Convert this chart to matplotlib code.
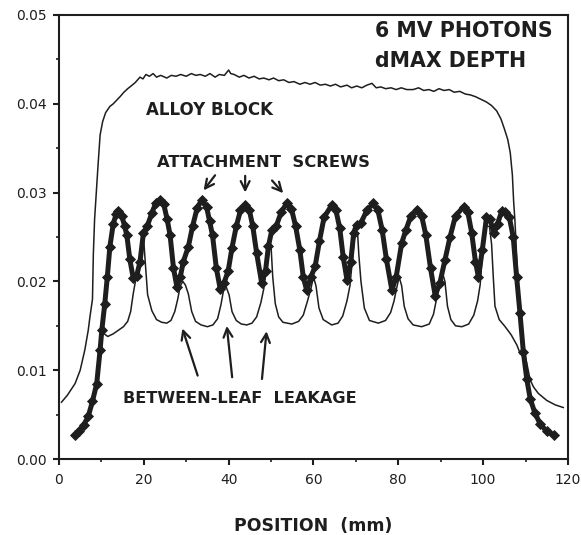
import numpy as np
import matplotlib
matplotlib.use("Agg")
import matplotlib.pyplot as plt
from matplotlib.ticker import MultipleLocator

plt.rcParams['font.family'] = ['DejaVu Sans']

# alloy block profile (thin upper curve)
alloy_x = [0.6, 2.0, 3.8, 5.0, 6.1, 6.9, 7.3, 7.9, 8.1, 8.4, 8.8, 9.2, 9.7, 10.3, 11.0, 12.0,
           12.8, 13.6, 14.4, 15.3, 16.2, 17.0, 18.0, 19.1, 19.8, 20.5, 21.3, 22.2, 23.0, 24.0,
           25.4, 26.5, 27.6, 28.7, 30.0, 31.2, 32.3, 33.3, 34.5, 35.6, 36.8, 37.8, 39.0, 40.0,
           40.5, 41.3, 42.5, 43.6, 44.8, 46.0, 47.2, 48.3, 49.5, 50.6, 51.8, 53.0, 54.2, 55.4,
           56.8, 58.0, 59.2, 60.4, 61.6, 62.8, 64.0, 65.2, 66.4, 67.9, 69.0, 70.2, 71.4, 72.6,
           73.8, 74.8, 75.9, 77.0, 78.3, 79.5, 80.7, 82.0, 83.5, 84.8, 86.0, 87.2, 88.4, 89.6,
           90.8, 92.0, 93.2, 94.5, 95.8, 97.0, 98.2, 99.5, 100.8, 102.0, 103.2, 104.2, 105.0,
           105.8, 106.4, 106.9, 107.2, 107.5, 108.2, 109.0, 110.0, 111.1, 111.9, 113.0, 115.0,
           117.0, 118.9]
alloy_y = [0.0064, 0.0072, 0.0085, 0.0100, 0.0123, 0.0145, 0.0160, 0.0180, 0.0230, 0.0270,
           0.0300, 0.0330, 0.0365, 0.0380, 0.0390, 0.0397, 0.0400, 0.0404, 0.0408, 0.0413,
           0.0417, 0.0420, 0.0424, 0.0430, 0.0428, 0.0433, 0.0431, 0.0434, 0.0430, 0.0432,
           0.0429, 0.0432, 0.0431, 0.0433, 0.0431, 0.0434, 0.0432, 0.0433, 0.0431, 0.0434,
           0.0430, 0.0433, 0.0432, 0.0438, 0.0434, 0.0433, 0.0430, 0.0432, 0.0429, 0.0431,
           0.0428, 0.0429, 0.0427, 0.0429, 0.0426, 0.0427, 0.0424, 0.0425, 0.0422, 0.0424,
           0.0422, 0.0424, 0.0421, 0.0422, 0.0420, 0.0422, 0.0419, 0.0421, 0.0418, 0.0420,
           0.0418, 0.0421, 0.0423, 0.0418, 0.0419, 0.0417, 0.0418, 0.0416, 0.0418, 0.0416,
           0.0416, 0.0418, 0.0415, 0.0416, 0.0414, 0.0417, 0.0415, 0.0416, 0.0413, 0.0414,
           0.0411, 0.0410, 0.0408, 0.0405, 0.0402, 0.0398, 0.0392, 0.0383, 0.0372, 0.0360,
           0.0345, 0.0320, 0.0290, 0.0269, 0.0200, 0.0150, 0.0115, 0.0089, 0.0081, 0.0074,
           0.0066, 0.0061, 0.0058]

# between-leaf leakage profile (thin lower curve)
leak_x = [10.4, 11.5, 12.8, 14.0, 15.2, 16.2, 16.9, 17.5, 18.2, 18.9, 19.5, 20.0, 20.4, 20.9,
          21.9, 23.0, 24.2, 25.4, 26.4, 27.3, 28.0, 28.6, 29.2, 29.8, 30.5, 31.3, 32.2, 33.5,
          35.0, 36.3, 37.4, 38.2, 38.8, 39.4, 40.1, 40.8, 41.8, 43.0, 44.3, 45.5, 46.6, 47.6,
          48.3, 48.9, 49.5, 50.0, 50.4, 51.0, 51.8, 52.8, 54.9, 56.5, 57.6, 58.6, 59.4, 60.0,
          60.6, 61.3, 62.3, 64.3, 65.8, 66.9, 67.9, 68.6, 69.2, 69.8, 70.4, 70.7, 71.2, 72.0,
          73.2, 75.3, 77.0, 78.2, 79.0, 79.6, 80.2, 80.8, 81.4, 82.3, 83.5, 85.5, 87.3, 88.3,
          89.1, 89.7, 90.4, 91.0, 91.6, 92.4, 93.5, 95.0, 96.6, 97.8, 98.7, 99.3, 99.8, 100.6,
          101.5, 102.0, 102.4, 102.8, 103.8, 105.2, 106.6, 108.0, 108.8]
leak_y = [0.0142, 0.0138, 0.0141, 0.0145, 0.0149, 0.0155, 0.0166, 0.0186, 0.0205, 0.0220,
          0.0245, 0.0245, 0.0218, 0.0185, 0.0167, 0.0157, 0.0154, 0.0153, 0.0156, 0.0166,
          0.0180, 0.0195, 0.0200, 0.0196, 0.0186, 0.0166, 0.0155, 0.0151, 0.0149, 0.0151,
          0.0158, 0.0174, 0.0190, 0.0194, 0.0185, 0.0166, 0.0156, 0.0152, 0.0151, 0.0153,
          0.0160, 0.0176, 0.0192, 0.0215, 0.0245, 0.0240, 0.0205, 0.0175, 0.0160, 0.0154,
          0.0152, 0.0155, 0.0162, 0.0178, 0.0192, 0.0205, 0.0195, 0.0170, 0.0157, 0.0151,
          0.0153, 0.0161, 0.0178, 0.0195, 0.0225, 0.0255, 0.0255, 0.0230, 0.0200, 0.0170,
          0.0156, 0.0153, 0.0156, 0.0165, 0.0178, 0.0192, 0.0205, 0.0195, 0.0172, 0.0158,
          0.0151, 0.0149, 0.0152, 0.0163, 0.0182, 0.0195, 0.0210, 0.0200, 0.0172, 0.0157,
          0.0150, 0.0149, 0.0152, 0.0162, 0.0178, 0.0196, 0.0228, 0.0262, 0.0262, 0.0242,
          0.0205, 0.0172, 0.0157, 0.0149, 0.0140, 0.0128, 0.0118]

# attachment screw profile (heavy beaded curve)
screw_x = [3.8, 4.8, 5.8, 6.9, 7.9, 8.9, 9.7, 10.1, 10.8, 11.4, 12.0, 12.8, 13.5, 14.0, 14.8,
           15.5, 16.0, 16.7, 17.5, 18.3, 19.1, 19.9, 20.8, 21.9, 22.8, 23.8, 24.7, 25.5, 26.2,
           27.0, 27.8, 28.6, 29.3, 30.5, 31.5, 32.6, 33.7, 34.8, 35.5, 36.2, 37.1, 38.0, 38.9,
           39.9, 40.8, 41.8, 42.8, 43.9, 44.9, 45.7, 46.6, 47.8, 48.7, 49.4, 50.2, 51.2, 52.4,
           53.7, 54.8, 55.8, 56.8, 57.6, 58.4, 59.4, 60.4, 61.4, 62.5, 64.3, 65.3, 66.2, 67.0,
           67.9, 68.8, 69.5, 70.2, 71.2, 72.6, 74.1, 75.2, 76.2, 77.2, 78.5, 79.5, 80.8, 81.8,
           83.0, 84.4, 85.5, 86.5, 87.6, 88.7, 89.8, 91.0, 92.2, 93.5, 95.4, 96.4, 97.3, 98.2,
           98.9, 99.8, 100.8, 101.6, 102.6, 103.4, 104.4, 105.2, 106.2, 107.1, 107.9, 108.7,
           109.5, 110.3, 111.1, 112.2, 113.4, 115.0, 116.6]
screw_y = [0.0027, 0.0032, 0.0038, 0.0048, 0.0065, 0.0085, 0.0123, 0.0145, 0.0175, 0.0205,
           0.0239, 0.0265, 0.0276, 0.0279, 0.0274, 0.0262, 0.0252, 0.0225, 0.0204, 0.0206,
           0.0222, 0.0254, 0.0262, 0.0277, 0.0288, 0.0292, 0.0287, 0.0270, 0.0252, 0.0215,
           0.0194, 0.0205, 0.0222, 0.0239, 0.0262, 0.0283, 0.0292, 0.0284, 0.0268, 0.0252,
           0.0215, 0.0192, 0.0198, 0.0212, 0.0238, 0.0262, 0.0280, 0.0286, 0.0280, 0.0262,
           0.0232, 0.0198, 0.0212, 0.0240, 0.0258, 0.0262, 0.0278, 0.0288, 0.0282, 0.0262,
           0.0235, 0.0205, 0.0190, 0.0205, 0.0217, 0.0245, 0.0272, 0.0286, 0.0280, 0.0260,
           0.0228, 0.0202, 0.0222, 0.0255, 0.0264, 0.0266, 0.0280, 0.0288, 0.0280, 0.0258,
           0.0225, 0.0190, 0.0205, 0.0243, 0.0258, 0.0274, 0.0280, 0.0274, 0.0252, 0.0215,
           0.0184, 0.0198, 0.0224, 0.0250, 0.0274, 0.0284, 0.0278, 0.0255, 0.0222, 0.0205,
           0.0235, 0.0272, 0.0270, 0.0254, 0.0265, 0.0279, 0.0278, 0.0272, 0.0250, 0.0205,
           0.0164, 0.0120, 0.0090, 0.0068, 0.0052, 0.0040, 0.0031, 0.0027]

ink = '#1e1e1e'

fig = plt.figure(figsize=(5.81, 5.35), dpi=100)
ax = fig.add_axes([0.1015, 0.142, 0.876, 0.830])

ax.plot(alloy_x, alloy_y, color=ink, lw=1.1)
ax.plot(leak_x, leak_y, color=ink, lw=1.1)
ax.plot(screw_x, screw_y, color=ink, lw=3.6, marker='D', ms=5.5,
        markeredgewidth=0.6, markerfacecolor=ink, markeredgecolor=ink)

ax.set_xlim(0, 120)
ax.set_ylim(0, 0.05)
ax.xaxis.set_major_locator(MultipleLocator(20))
ax.xaxis.set_minor_locator(MultipleLocator(10))
ax.yaxis.set_major_locator(MultipleLocator(0.01))
ax.yaxis.set_minor_locator(MultipleLocator(0.005))
ax.yaxis.set_major_formatter(plt.FuncFormatter(lambda v, p: f'{v:.2f}'))
ax.tick_params(which='major', direction='out', length=4, width=1.5, labelsize=10,
               colors=ink)
ax.tick_params(axis='y', which='major', pad=4.5)
ax.tick_params(axis='x', which='major', pad=6)
ax.tick_params(which='minor', direction='out', length=2.5, width=1.2, colors=ink)
for s in ax.spines.values():
    s.set_linewidth(1.5)
    s.set_color(ink)

ax.set_xlabel('POSITION  (mm)', fontsize=12.5, fontweight='bold', color=ink, labelpad=22)

bold = dict(fontweight='bold', color=ink)
ax.text(74.5, 0.0482, '6 MV PHOTONS', fontsize=14.8, va='center', ha='left', **bold)
ax.text(74.5, 0.0448, 'dMAX DEPTH', fontsize=14.8, va='center', ha='left', **bold)
ax.text(20.5, 0.0393, 'ALLOY BLOCK', fontsize=12, va='center', ha='left', **bold)
ax.text(23.1, 0.0334, 'ATTACHMENT  SCREWS', fontsize=11.8, va='center', ha='left', **bold)
ax.text(15.1, 0.0068, 'BETWEEN-LEAF  LEAKAGE', fontsize=11.6, va='center', ha='left', **bold)

arrow = dict(arrowstyle='->', color=ink, lw=1.6, mutation_scale=16)
screw_arrows = [((37.2, 0.0322), (33.7, 0.0300)),
                ((43.9, 0.0322), (43.9, 0.0297)),
                ((49.8, 0.0316), (53.3, 0.0297))]
leak_arrows = [((32.9, 0.0091), (28.9, 0.0150)),
               ((40.9, 0.0089), (39.5, 0.0153)),
               ((47.8, 0.0087), (49.0, 0.0147))]
for start, end in screw_arrows + leak_arrows:
    ax.annotate('', xy=end, xytext=start, arrowprops=arrow)

fig.savefig('out.png', dpi=100)
